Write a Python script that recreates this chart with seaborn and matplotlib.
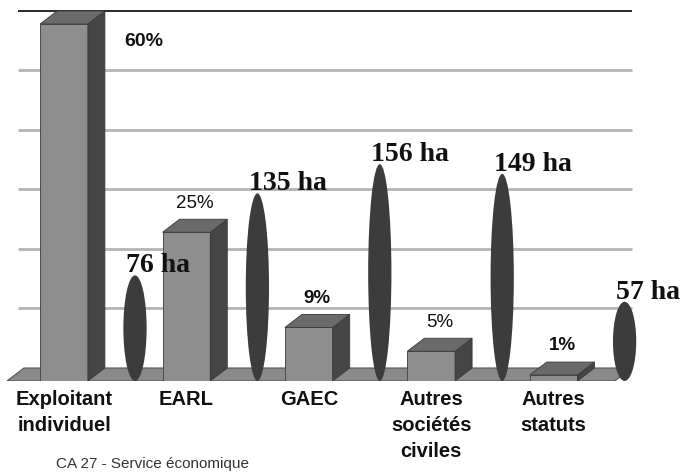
import matplotlib
matplotlib.use("Agg")
import matplotlib.pyplot as plt
import seaborn as sns
import pandas as pd
from matplotlib.patches import Polygon, Ellipse

# Data
statuts = ["Exploitant\nindividuel", "EARL", "GAEC", "Autres\nsociétés\nciviles", "Autres\nstatuts"]
part_pct = [60, 25, 9, 5, 1]            # share of farms (%)
surface_ha = [76, 135, 156, 149, 57]    # mean farm size (ha)
pct_bold = [True, False, True, False, True]
grid_vals = [10, 20, 30, 40, 50, 60]
source = "CA 27 - Service économique"

sns.set_style("white")
plt.rcParams["font.family"] = ["Liberation Sans", "DejaVu Sans"]

# 3D look: offset of the back plane (data units)
DX, DY = 0.139, 2.185
HA_SCALE = 0.2336   # % units per hectare for the ellipses

fig = plt.figure(figsize=(6.81, 4.75), dpi=100)
ax = fig.add_axes([0, 0.1979, 1, 0.7892])
ax.patch.set_alpha(0)

df = pd.DataFrame({"statut": statuts, "part": part_pct})
sns.barplot(data=df, x="statut", y="part", color="#8e8e8e", saturation=1,
            width=0.39, edgecolor="#4a4a4a", linewidth=0.7, ax=ax, zorder=4)

# back wall gridlines
for v in grid_vals:
    col = "#2a2a2a" if v == grid_vals[-1] else "#b4b4b4"
    lw = 1.4 if v == grid_vals[-1] else 2.0
    ax.plot([-0.376, 4.641], [v + DY, v + DY], color=col, lw=lw, zorder=1,
            solid_capstyle="butt")

# floor
fl, fr = -0.466, 4.50
ax.add_patch(Polygon([(fl, 0), (fr, 0), (fr + DX, DY), (fl + DX, DY)],
                     closed=True, facecolor="#8a8a8a", edgecolor="#555555",
                     lw=0.8, zorder=2))

# sides and tops of the bars
for bar in ax.patches[:len(part_pct)]:
    x0 = bar.get_x()
    x1 = x0 + bar.get_width()
    h = bar.get_height()
    ax.add_patch(Polygon([(x1, 0), (x1 + DX, DY), (x1 + DX, h + DY), (x1, h)],
                         closed=True, facecolor="#454545", edgecolor="#3a3a3a",
                         lw=0.6, zorder=4))
    ax.add_patch(Polygon([(x0, h), (x1, h), (x1 + DX, h + DY), (x0 + DX, h + DY)],
                         closed=True, facecolor="#6a6a6a", edgecolor="#3a3a3a",
                         lw=0.6, zorder=4))

# percentage labels
for i, (p, b) in enumerate(zip(part_pct, pct_bold)):
    w = "bold" if b else "normal"
    if p > 50:
        ax.text(i + 0.195 + DX + 0.155, p - 3, f"{p}%", ha="left", va="center",
                fontsize=14, fontweight=w, color="#111111", zorder=6)
    else:
        ax.text(i + DX / 2, p + DY + 2.7, f"{p}%", ha="center", va="center",
                fontsize=13.5, fontweight=w, color="#111111", zorder=6)

# hectare ellipses
for i, ha in enumerate(surface_ha):
    h = ha * HA_SCALE
    cx = i + 0.58
    ax.add_patch(Ellipse((cx, h / 2), width=0.19, height=h, facecolor="#3c3c3c",
                         edgecolor="none", zorder=5, clip_on=False))
    ax.text(cx - 0.07, h + 0.5, f"{ha} ha", ha="left", va="baseline",
            fontsize=20, fontweight="bold", family=["Liberation Serif", "DejaVu Serif"],
            color="#111111", zorder=6, clip_on=False)

ax.set_xlim(-0.5229, 5.0408)
ax.set_ylim(0, 63)
ax.set_yticks([])
ax.set_xlabel("")
ax.set_ylabel("")
for s in ax.spines.values():
    s.set_visible(False)
ax.tick_params(axis="x", length=0, pad=6.5)
for lbl in ax.get_xticklabels():
    lbl.set_fontweight("bold")
    lbl.set_fontsize(14.5)
    lbl.set_linespacing(1.45)
    lbl.set_color("#111111")

fig.text(152 / 681, 1 - 464 / 475, source, ha="center", va="center",
         fontsize=11, color="#333333")

fig.savefig("out.png", dpi=100)
plt.close(fig)
